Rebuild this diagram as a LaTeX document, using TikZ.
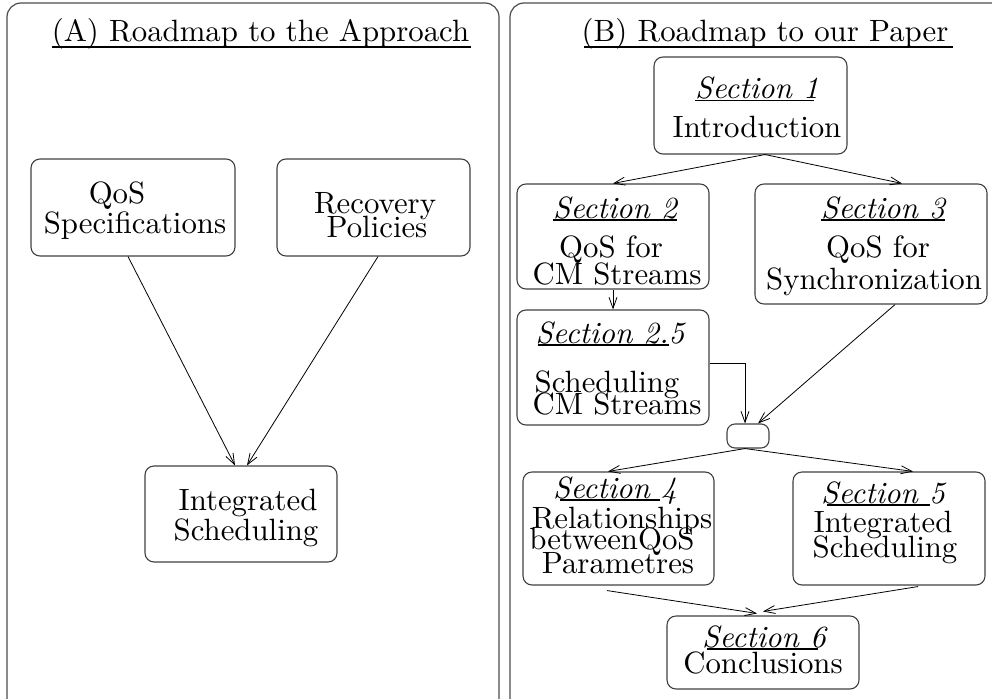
\documentclass[tikz,border=0pt]{standalone}
\usepackage{fontspec}
\setmainfont{lmroman10-regular.otf}[ItalicFont=lmroman10-italic.otf]
\usetikzlibrary{arrows.meta,calc}
\begin{document}
\begin{tikzpicture}[x=1pt,y=-1pt,
  panel/.style={draw=black!70, line width=1.2pt, rounded corners=14pt},
  box/.style={draw=black!75, line width=1.1pt, rounded corners=9pt, inner sep=0pt},
  txt/.style={anchor=base, inner sep=0pt, font=\fontsize{30.8}{34}\selectfont},
  sec/.style={anchor=base, inner sep=0pt, font=\fontsize{30.8}{34}\selectfont\itshape},
  uline/.style={line width=1.4pt},
  conn/.style={line width=0.8pt},
  arr/.style={conn, -{Straight Barb[length=11pt,width=8pt,line width=0.8pt]}}]
\useasboundingbox (0,0) rectangle (992,698);
\clip (0,0) rectangle (992,698);
% panels
\draw[panel] (7,3) rectangle (499,714);
\draw[panel] (510,3) rectangle (1010,714);
% titles
\node[txt] (tA) at (260.5,42) {(A) Roadmap to the Approach};
\draw[uline] ($(tA.base west)+(0,5)$) -- ($(tA.base east)+(2,5)$);
\node[txt] (tB) at (765,42) {(B) Roadmap to our Paper};
\draw[uline] ($(tB.base west)+(3,5)$) -- ($(tB.base east)+(4,5)$);
% ---------------- left panel
\node[box, minimum width=204pt, minimum height=97pt] (qos) at (133,207.5) {};
\node[box, minimum width=193pt, minimum height=97pt] (rec) at (373.5,207.5) {};
\node[box, minimum width=192pt, minimum height=96pt] (int) at (241,514) {};
\node[txt] (qos1) at (117,203) {QoS};
\node[txt] (qos2) at (135,233) {Specifications};
\node[txt] (rec1) at (375,213) {Recovery};
\node[txt] (rec2) at (377,237) {Policies};
\node[txt] (int1) at (248,510) {Integrated};
\node[txt] (int2) at (246,540) {Scheduling};
\draw[arr] ($(qos.south)+(-5,0)$) -- ($(int.north)+(-6,0)$);
\draw[arr] ($(rec.south)+(4.5,0)$) -- ($(int.north)+(6,0)$);
% ---------------- right panel
\node[box, minimum width=193pt, minimum height=97pt] (s1) at (750.5,105.5) {};
\node[box, minimum width=192pt, minimum height=105pt] (s2) at (613,236.5) {};
\node[box, minimum width=232pt, minimum height=120pt] (s3) at (871,244) {};
\node[box, minimum width=192pt, minimum height=115pt] (s25) at (613,367.5) {};
\node[box, minimum width=42pt, minimum height=24pt, rounded corners=8pt] (join) at (748,436) {};
\node[box, minimum width=191pt, minimum height=113pt] (s4) at (618.5,528.5) {};
\node[box, minimum width=192pt, minimum height=113pt] (s5) at (889,528.5) {};
\node[box, minimum width=192pt, minimum height=73pt] (s6) at (763,652.5) {};
% texts
\node[sec] (s1a) at (757,99) {Section 1};
\draw[uline] ($(s1a.base west)+(0,1.5)$) -- ($(s1a.base east)+(-5,1.5)$);
\node[txt] (s1b) at (757,137) {Introduction};
\node[sec] (s2a) at (615,218) {Section 2};
\draw[uline] ($(s2a.base west)+(0,2)$) -- ($(s2a.base east)+(0,2)$);
\node[txt] (s2b) at (611,257) {QoS for};
\node[txt] (s2c) at (617,284) {CM Streams};
\node[sec] (s3a) at (883,218) {Section 3};
\draw[uline] ($(s3a.base west)+(0,2)$) -- ($(s3a.base east)+(0,2)$);
\node[txt] (s3b) at (878,257) {QoS for};
\node[txt] (s3c) at (874,289) {Synchronization};
\node[sec] (s25a) at (610,343) {Section 2.5};
\draw[uline] ($(s25a.base west)+(3,2)$) -- ($(s25a.base east)+(-16,2)$);
\node[txt] (s25b) at (607,392) {Scheduling};
\node[txt] (s25c) at (617,414) {CM Streams};
\node[sec] (s4a) at (615,498) {Section 4};
\draw[uline] ($(s4a.base west)+(7,2)$) -- ($(s4a.base east)+(-17,2)$);
\node[txt] (s4b) at (622,528) {Relationships};
\node[txt] (s4c) at (612,549) {betweenQoS};
\node[txt] (s4d) at (618,573) {Parametres};
\node[sec] (s5a) at (883,503) {Section 5};
\draw[uline] ($(s5a.base west)+(6,2)$) -- ($(s5a.base east)+(-15,2)$);
\node[txt] (s5b) at (883,532) {Integrated};
\node[txt] (s5c) at (885,557) {Scheduling};
\node[sec] (s6a) at (764,647) {Section 6};
\draw[uline] ($(s6a.base west)+(5,2)$) -- ($(s6a.base east)+(-8,2)$);
\node[txt] (s6b) at (763,673) {Conclusions};
% connectors
\draw[arr] ($(s1.south)+(14.5,0)$) -- (s2.north);
\draw[arr] ($(s1.south)+(14.5,0)$) -- ($(s3.north)+(31,0)$);
\draw[arr] (s2.south) -- (s25.north);
\draw[arr] ($(s25.east)+(0,-4.5)$) -| ($(join.north)+(-3,0)$);
\draw[arr] ($(s3.south)+(24,0)$) -- ($(join.north)+(10,0)$);
\draw[arr] ($(join.south)+(-3,0)$) -- ($(s4.north)+(-10.5,0)$);
\draw[arr] ($(join.south)+(-3,0)$) -- ($(s5.north)+(24,0)$);
\draw[arr] ($(s4.south)+(-11.5,5)$) -- ($(s6.north)+(-6,-2)$);
\draw[arr] ($(s5.south)+(29,1)$) -- ($(s6.north)+(0,-4)$);
\end{tikzpicture}
\end{document}
